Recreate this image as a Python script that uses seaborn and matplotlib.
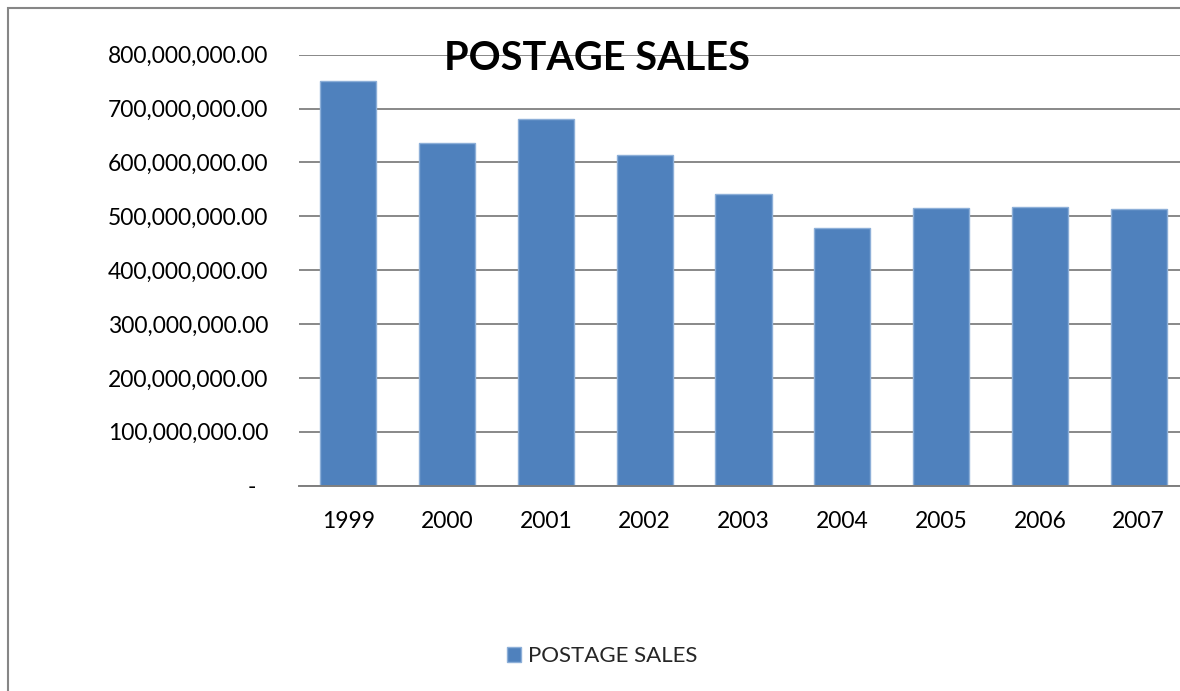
import matplotlib
matplotlib.use("Agg")
import matplotlib.pyplot as plt
from matplotlib.patches import Rectangle
from matplotlib.ticker import FuncFormatter, MultipleLocator
import seaborn as sns
import pandas as pd

years = ["1999", "2000", "2001", "2002", "2003", "2004", "2005", "2006", "2007"]
sales = [751e6, 637e6, 680e6, 614e6, 541e6, 479e6, 516e6, 517e6, 514e6]
series_name = "POSTAGE SALES"

df = pd.DataFrame({"year": years, "sales": sales, "series": series_name})

sns.set_theme(style="white")
plt.rcParams["font.family"] = ["Lato", "DejaVu Sans"]

W, H = 1180, 691
fig = plt.figure(figsize=(W / 100, H / 100), dpi=100)
ax = fig.add_axes([299 / W, 1 - 485.7 / H, 889 / W, (485.7 - 54.7) / H])

sns.barplot(data=df, x="year", y="sales", hue="series", palette=["#4F81BD"],
            dodge=False, width=0.567, ax=ax, edgecolor="#8DAFD8", linewidth=1.0,
            saturation=1)

ax.set_ylim(0, 800e6)
ax.set_xlim(-0.5, len(years) - 0.5)
ax.yaxis.set_major_locator(MultipleLocator(100e6))


def fmt(v, _):
    if abs(v) < 1:
        return "-  "
    return f"{v:,.2f}"


ax.yaxis.set_major_formatter(FuncFormatter(fmt))
ax.grid(axis="y", color="#7F7F7F", linewidth=1.3)
ax.set_axisbelow(True)
for s in ["left", "right", "top"]:
    ax.spines[s].set_visible(False)
ax.spines["bottom"].set_color("#7F7F7F")
ax.spines["bottom"].set_linewidth(1.4)
ax.tick_params(axis="y", length=0, pad=22, labelsize=16.5, labelcolor="black")
ax.tick_params(axis="x", length=0, pad=18, labelsize=16.5, labelcolor="black")
ax.set_xlabel("")
ax.set_ylabel("")

fig.text(597 / W, 1 - 58 / H, "POSTAGE SALES", ha="center", va="center",
         fontsize=28.5, fontweight="bold", color="black")

sns.move_legend(ax, loc="center", bbox_to_anchor=(602 / W, 1 - 656 / H),
                bbox_transform=fig.transFigure, frameon=False, title=None,
                fontsize=16, handlelength=0.65, handleheight=0.65,
                handletextpad=0.3)

# chart frame
fig.patches.append(Rectangle((8 / W, -0.2), 1.5, (H - 8) / H + 0.2,
                             transform=fig.transFigure, fill=False,
                             edgecolor="#868686", linewidth=1.5))

fig.savefig("out.png", dpi=100)
